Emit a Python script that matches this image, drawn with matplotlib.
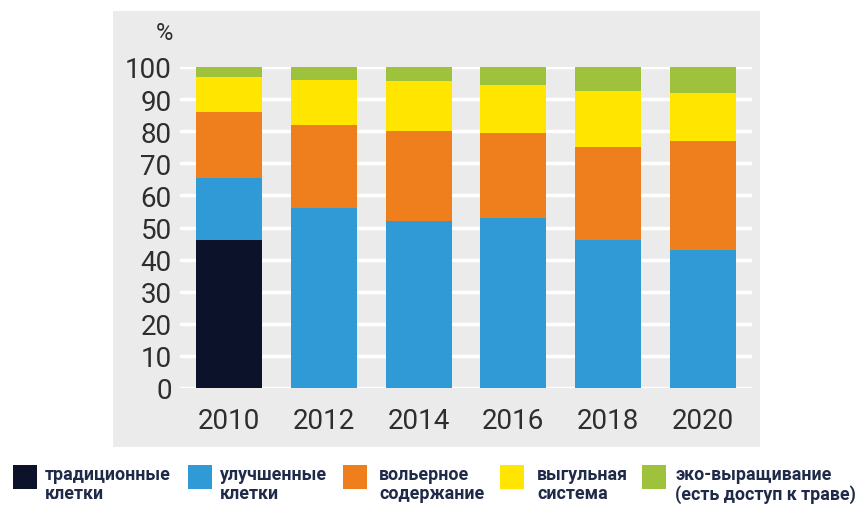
import matplotlib
matplotlib.use("Agg")
import matplotlib.pyplot as plt
from matplotlib.patches import Rectangle
import numpy as np

years = ["2010", "2012", "2014", "2016", "2018", "2020"]
traditional = [46, 0, 0, 0, 0, 0]
improved = [19.5, 56, 52, 53, 46, 43]
aviary = [20.5, 26, 28, 26.5, 29, 34]
free_range = [11, 14, 15.5, 15, 17.5, 15]
organic = [3, 4, 4.5, 5.5, 7.5, 8]
series = [traditional, improved, aviary, free_range, organic]
labels = ["традиционные\nклетки", "улучшенные\nклетки", "вольерное\nсодержание",
          "выгульная\nсистема", "эко-выращивание\n(есть доступ к траве)"]
colors = ["#0b1229", "#2f9ad6", "#ee7f1c", "#ffe500", "#9ec23c"]
yticks = [0, 10, 20, 30, 40, 50, 60, 70, 80, 90, 100]

W, H = 863, 506
fig = plt.figure(figsize=(W / 100, H / 100), dpi=100)
fig.patch.set_facecolor("white")
plt.rcParams['font.family'] = ['Roboto', 'DejaVu Sans']

def fx(px):
    return px / W

def fy(py):
    return 1 - py / H

# grey panel
fig.patches.append(Rectangle((fx(113), fy(448)), fx(760) - fx(113), fy(12) - fy(448),
                             transform=fig.transFigure, facecolor="#ebebeb",
                             edgecolor="none", zorder=-10))

ax = fig.add_axes([fx(180), fy(389), fx(752) - fx(180), fy(68) - fy(389)])
ax.set_facecolor("none")
x = np.arange(len(years))
bottom = np.zeros(len(years))
for vals, c in zip(series, colors):
    v = np.array(vals, dtype=float)
    ax.bar(x, v, bottom=bottom, width=0.7, color=c, zorder=3, linewidth=0)
    bottom += v

ax.set_xlim(-0.52, 5.52)
ax.set_ylim(0, 100)
ax.set_yticks(yticks)
ax.set_yticklabels([str(t) for t in yticks])
ax.set_xticks(x)
ax.set_xticklabels(years)
ax.tick_params(axis="both", length=0, labelsize=20, labelcolor="#2e2e2e")
ax.tick_params(axis="y", pad=6)
ax.tick_params(axis="x", pad=14)
ax.grid(axis="y", color="white", linewidth=2.5, zorder=1)
ax.set_axisbelow(True)
for s in ax.spines.values():
    s.set_visible(False)

fig.text(fx(173), fy(34), "%", ha="right", va="center", fontsize=17, color="#2e2e2e")

# legend
sq_x = [13, 188, 343, 500, 642]
tx_x = [45, 220, 379, 537, 675]
for sx, tx, lab, c in zip(sq_x, tx_x, labels, colors):
    fig.patches.append(Rectangle((fx(sx), fy(490)), fx(24), fy(466) - fy(490),
                                 transform=fig.transFigure, facecolor=c,
                                 edgecolor="none"))
    fig.text(fx(tx), fy(466), lab, ha="left", va="top", fontsize=12.8,
             fontweight="bold", color="#1f2a48", linespacing=1.08)

fig.savefig("out.png", dpi=100)
